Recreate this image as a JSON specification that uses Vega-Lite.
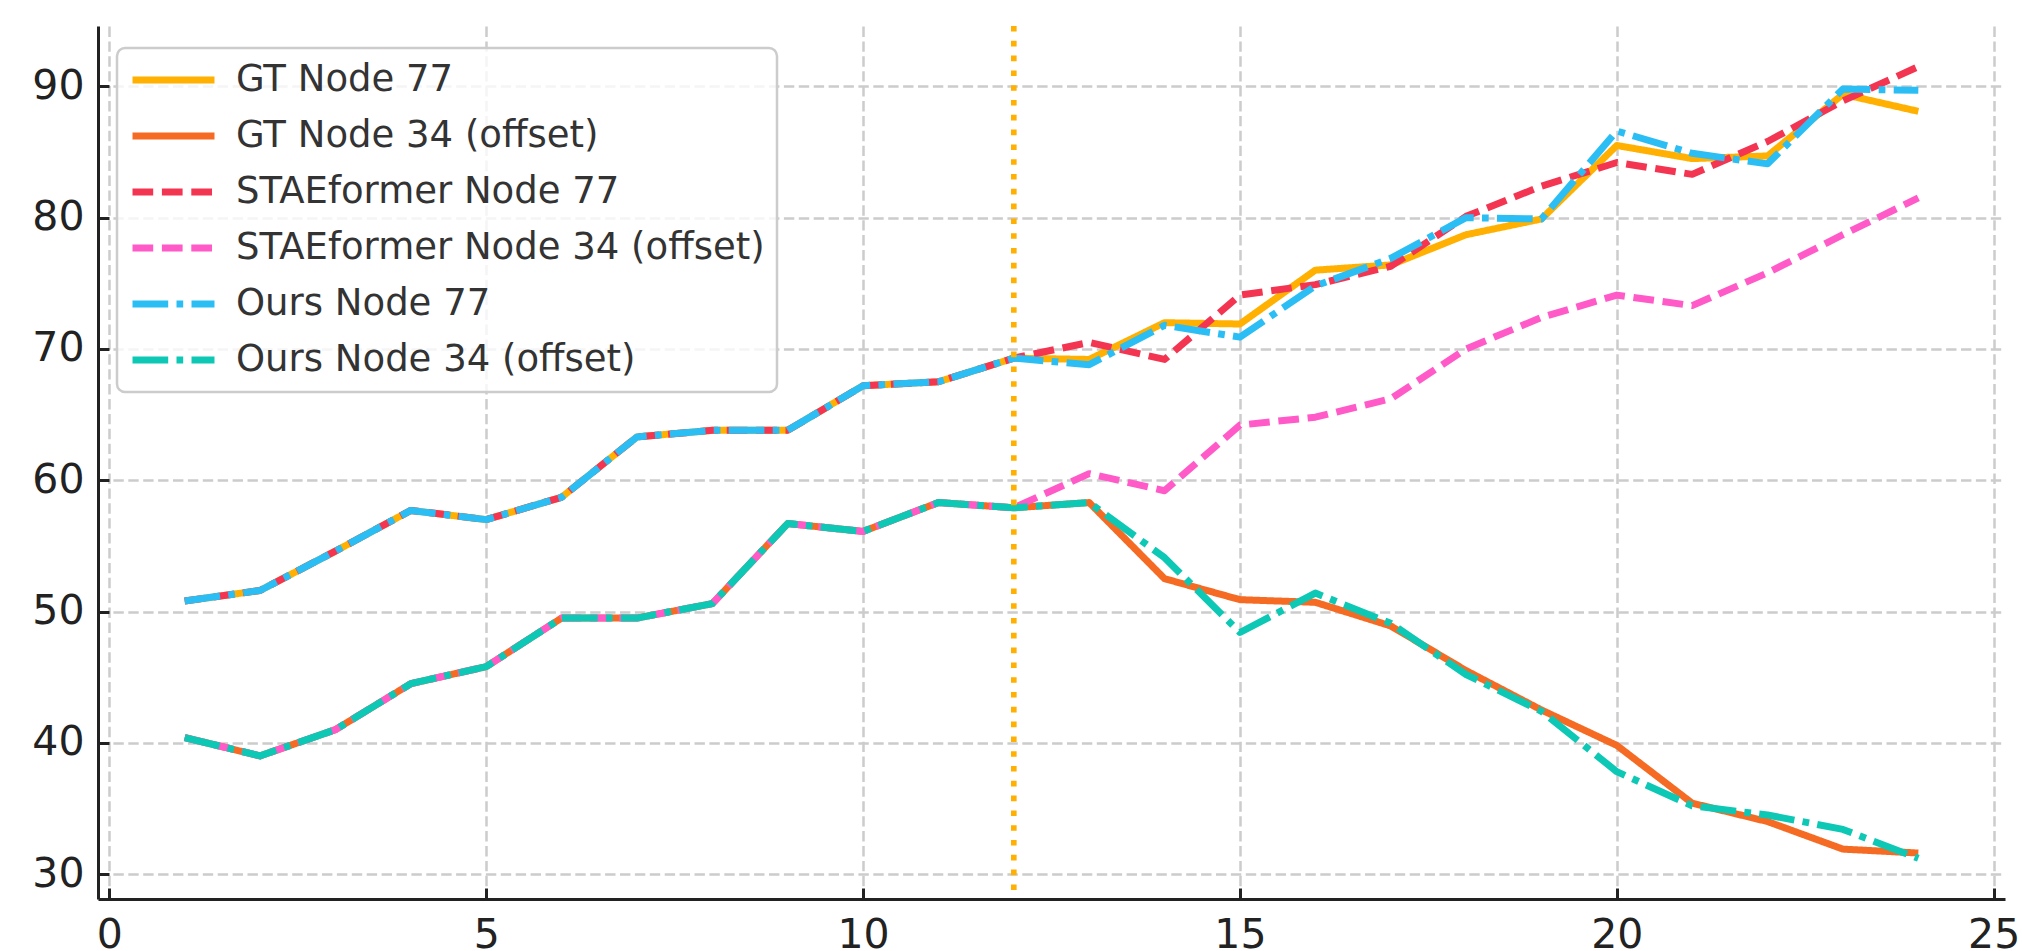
{
  "$schema": "https://vega.github.io/schema/vega-lite/v6.json",
  "width": 1907,
  "height": 873,
  "autosize": {"type": "none"},
  "padding": {"left": 98, "top": 26, "right": 17, "bottom": 52},
  "background": "white",
  "datasets": {
    "series": [
      {"t":1,"v":50.8,"s":"GT Node 77"},{"t":2,"v":51.6,"s":"GT Node 77"},{"t":3,"v":54.6,"s":"GT Node 77"},{"t":4,"v":57.7,"s":"GT Node 77"},{"t":5,"v":57.0,"s":"GT Node 77"},{"t":6,"v":58.7,"s":"GT Node 77"},{"t":7,"v":63.3,"s":"GT Node 77"},{"t":8,"v":63.8,"s":"GT Node 77"},{"t":9,"v":63.8,"s":"GT Node 77"},{"t":10,"v":67.2,"s":"GT Node 77"},{"t":11,"v":67.5,"s":"GT Node 77"},{"t":12,"v":69.3,"s":"GT Node 77"},{"t":13,"v":69.2,"s":"GT Node 77"},{"t":14,"v":72.0,"s":"GT Node 77"},{"t":15,"v":71.9,"s":"GT Node 77"},{"t":16,"v":76.0,"s":"GT Node 77"},{"t":17,"v":76.4,"s":"GT Node 77"},{"t":18,"v":78.7,"s":"GT Node 77"},{"t":19,"v":79.9,"s":"GT Node 77"},{"t":20,"v":85.5,"s":"GT Node 77"},{"t":21,"v":84.5,"s":"GT Node 77"},{"t":22,"v":84.7,"s":"GT Node 77"},{"t":23,"v":89.4,"s":"GT Node 77"},{"t":24,"v":88.1,"s":"GT Node 77"},
      {"t":1,"v":40.4,"s":"GT Node 34 (offset)"},{"t":2,"v":39.0,"s":"GT Node 34 (offset)"},{"t":3,"v":41.0,"s":"GT Node 34 (offset)"},{"t":4,"v":44.5,"s":"GT Node 34 (offset)"},{"t":5,"v":45.8,"s":"GT Node 34 (offset)"},{"t":6,"v":49.5,"s":"GT Node 34 (offset)"},{"t":7,"v":49.5,"s":"GT Node 34 (offset)"},{"t":8,"v":50.6,"s":"GT Node 34 (offset)"},{"t":9,"v":56.7,"s":"GT Node 34 (offset)"},{"t":10,"v":56.1,"s":"GT Node 34 (offset)"},{"t":11,"v":58.3,"s":"GT Node 34 (offset)"},{"t":12,"v":57.9,"s":"GT Node 34 (offset)"},{"t":13,"v":58.3,"s":"GT Node 34 (offset)"},{"t":14,"v":52.5,"s":"GT Node 34 (offset)"},{"t":15,"v":50.9,"s":"GT Node 34 (offset)"},{"t":16,"v":50.7,"s":"GT Node 34 (offset)"},{"t":17,"v":48.9,"s":"GT Node 34 (offset)"},{"t":18,"v":45.5,"s":"GT Node 34 (offset)"},{"t":19,"v":42.5,"s":"GT Node 34 (offset)"},{"t":20,"v":39.8,"s":"GT Node 34 (offset)"},{"t":21,"v":35.4,"s":"GT Node 34 (offset)"},{"t":22,"v":34.0,"s":"GT Node 34 (offset)"},{"t":23,"v":31.9,"s":"GT Node 34 (offset)"},{"t":24,"v":31.6,"s":"GT Node 34 (offset)"},
      {"t":1,"v":50.8,"s":"STAEformer Node 77"},{"t":2,"v":51.6,"s":"STAEformer Node 77"},{"t":3,"v":54.6,"s":"STAEformer Node 77"},{"t":4,"v":57.7,"s":"STAEformer Node 77"},{"t":5,"v":57.0,"s":"STAEformer Node 77"},{"t":6,"v":58.7,"s":"STAEformer Node 77"},{"t":7,"v":63.3,"s":"STAEformer Node 77"},{"t":8,"v":63.8,"s":"STAEformer Node 77"},{"t":9,"v":63.8,"s":"STAEformer Node 77"},{"t":10,"v":67.2,"s":"STAEformer Node 77"},{"t":11,"v":67.5,"s":"STAEformer Node 77"},{"t":12,"v":69.3,"s":"STAEformer Node 77"},{"t":13,"v":70.5,"s":"STAEformer Node 77"},{"t":14,"v":69.2,"s":"STAEformer Node 77"},{"t":15,"v":74.1,"s":"STAEformer Node 77"},{"t":16,"v":74.9,"s":"STAEformer Node 77"},{"t":17,"v":76.3,"s":"STAEformer Node 77"},{"t":18,"v":80.1,"s":"STAEformer Node 77"},{"t":19,"v":82.4,"s":"STAEformer Node 77"},{"t":20,"v":84.2,"s":"STAEformer Node 77"},{"t":21,"v":83.3,"s":"STAEformer Node 77"},{"t":22,"v":85.8,"s":"STAEformer Node 77"},{"t":23,"v":88.9,"s":"STAEformer Node 77"},{"t":24,"v":91.5,"s":"STAEformer Node 77"},
      {"t":1,"v":40.4,"s":"STAEformer Node 34 (offset)"},{"t":2,"v":39.0,"s":"STAEformer Node 34 (offset)"},{"t":3,"v":41.0,"s":"STAEformer Node 34 (offset)"},{"t":4,"v":44.5,"s":"STAEformer Node 34 (offset)"},{"t":5,"v":45.8,"s":"STAEformer Node 34 (offset)"},{"t":6,"v":49.5,"s":"STAEformer Node 34 (offset)"},{"t":7,"v":49.5,"s":"STAEformer Node 34 (offset)"},{"t":8,"v":50.6,"s":"STAEformer Node 34 (offset)"},{"t":9,"v":56.7,"s":"STAEformer Node 34 (offset)"},{"t":10,"v":56.1,"s":"STAEformer Node 34 (offset)"},{"t":11,"v":58.3,"s":"STAEformer Node 34 (offset)"},{"t":12,"v":57.9,"s":"STAEformer Node 34 (offset)"},{"t":13,"v":60.5,"s":"STAEformer Node 34 (offset)"},{"t":14,"v":59.2,"s":"STAEformer Node 34 (offset)"},{"t":15,"v":64.2,"s":"STAEformer Node 34 (offset)"},{"t":16,"v":64.8,"s":"STAEformer Node 34 (offset)"},{"t":17,"v":66.2,"s":"STAEformer Node 34 (offset)"},{"t":18,"v":70.0,"s":"STAEformer Node 34 (offset)"},{"t":19,"v":72.4,"s":"STAEformer Node 34 (offset)"},{"t":20,"v":74.1,"s":"STAEformer Node 34 (offset)"},{"t":21,"v":73.3,"s":"STAEformer Node 34 (offset)"},{"t":22,"v":75.8,"s":"STAEformer Node 34 (offset)"},{"t":23,"v":78.7,"s":"STAEformer Node 34 (offset)"},{"t":24,"v":81.5,"s":"STAEformer Node 34 (offset)"},
      {"t":1,"v":50.8,"s":"Ours Node 77"},{"t":2,"v":51.6,"s":"Ours Node 77"},{"t":3,"v":54.6,"s":"Ours Node 77"},{"t":4,"v":57.7,"s":"Ours Node 77"},{"t":5,"v":57.0,"s":"Ours Node 77"},{"t":6,"v":58.7,"s":"Ours Node 77"},{"t":7,"v":63.3,"s":"Ours Node 77"},{"t":8,"v":63.8,"s":"Ours Node 77"},{"t":9,"v":63.8,"s":"Ours Node 77"},{"t":10,"v":67.2,"s":"Ours Node 77"},{"t":11,"v":67.5,"s":"Ours Node 77"},{"t":12,"v":69.3,"s":"Ours Node 77"},{"t":13,"v":68.8,"s":"Ours Node 77"},{"t":14,"v":71.8,"s":"Ours Node 77"},{"t":15,"v":70.9,"s":"Ours Node 77"},{"t":16,"v":74.8,"s":"Ours Node 77"},{"t":17,"v":76.9,"s":"Ours Node 77"},{"t":18,"v":80.0,"s":"Ours Node 77"},{"t":19,"v":79.9,"s":"Ours Node 77"},{"t":20,"v":86.6,"s":"Ours Node 77"},{"t":21,"v":84.9,"s":"Ours Node 77"},{"t":22,"v":84.1,"s":"Ours Node 77"},{"t":23,"v":89.8,"s":"Ours Node 77"},{"t":24,"v":89.7,"s":"Ours Node 77"},
      {"t":1,"v":40.4,"s":"Ours Node 34 (offset)"},{"t":2,"v":39.0,"s":"Ours Node 34 (offset)"},{"t":3,"v":41.0,"s":"Ours Node 34 (offset)"},{"t":4,"v":44.5,"s":"Ours Node 34 (offset)"},{"t":5,"v":45.8,"s":"Ours Node 34 (offset)"},{"t":6,"v":49.5,"s":"Ours Node 34 (offset)"},{"t":7,"v":49.5,"s":"Ours Node 34 (offset)"},{"t":8,"v":50.6,"s":"Ours Node 34 (offset)"},{"t":9,"v":56.7,"s":"Ours Node 34 (offset)"},{"t":10,"v":56.1,"s":"Ours Node 34 (offset)"},{"t":11,"v":58.3,"s":"Ours Node 34 (offset)"},{"t":12,"v":57.9,"s":"Ours Node 34 (offset)"},{"t":13,"v":58.3,"s":"Ours Node 34 (offset)"},{"t":14,"v":54.1,"s":"Ours Node 34 (offset)"},{"t":15,"v":48.4,"s":"Ours Node 34 (offset)"},{"t":16,"v":51.4,"s":"Ours Node 34 (offset)"},{"t":17,"v":49.1,"s":"Ours Node 34 (offset)"},{"t":18,"v":45.2,"s":"Ours Node 34 (offset)"},{"t":19,"v":42.4,"s":"Ours Node 34 (offset)"},{"t":20,"v":37.8,"s":"Ours Node 34 (offset)"},{"t":21,"v":35.2,"s":"Ours Node 34 (offset)"},{"t":22,"v":34.5,"s":"Ours Node 34 (offset)"},{"t":23,"v":33.4,"s":"Ours Node 34 (offset)"},{"t":24,"v":31.2,"s":"Ours Node 34 (offset)"}
    ],
    "marker": [{"t": 12}]
  },
  "layer": [
    {
      "data": {"name": "series"},
      "mark": {"type": "line", "strokeJoin": "round", "strokeCap": "butt"},
      "encoding": {
        "x": {"field": "t", "type": "quantitative", "scale": {"domain": [-0.15, 25.15], "nice": false, "zero": false}, "axis": {"values": [0, 5, 10, 15, 20, 25], "format": "d"}, "title": null},
        "y": {"field": "v", "type": "quantitative", "scale": {"domain": [28.1, 94.6], "nice": false, "zero": false}, "axis": {"values": [30, 40, 50, 60, 70, 80, 90], "format": "d"}, "title": null},
        "color": {
          "field": "s", "type": "nominal", "title": null,
          "scale": {
            "domain": ["GT Node 77", "GT Node 34 (offset)", "STAEformer Node 77", "STAEformer Node 34 (offset)", "Ours Node 77", "Ours Node 34 (offset)"],
            "range": ["#FFB000", "#F56B24", "#F43552", "#FF5AC8", "#2BBEF5", "#0DC8B5"]
          }
        },
        "strokeDash": {
          "field": "s", "type": "nominal", "title": null,
          "scale": {
            "domain": ["GT Node 77", "GT Node 34 (offset)", "STAEformer Node 77", "STAEformer Node 34 (offset)", "Ours Node 77", "Ours Node 34 (offset)"],
            "range": [[1, 0], [1, 0], [20.7, 8.7], [20.7, 8.7], [35.7, 8.3, 6.7, 8.3], [35.7, 8.3, 6.7, 8.3]]
          }
        },
        "strokeWidth": {
          "field": "s", "type": "nominal", "title": null,
          "scale": {
            "domain": ["GT Node 77", "GT Node 34 (offset)", "STAEformer Node 77", "STAEformer Node 34 (offset)", "Ours Node 77", "Ours Node 34 (offset)"],
            "range": [7, 7, 5.6, 5.6, 5.6, 5.6]
          }
        }
      }
    },
    {
      "data": {"name": "marker"},
      "mark": {"type": "rule", "color": "#FFB000", "strokeWidth": 5.6, "strokeDash": [5.6, 9.2], "strokeCap": "butt"},
      "encoding": {
        "x": {"field": "t", "type": "quantitative", "scale": {"domain": [-0.15, 25.15], "nice": false, "zero": false}}
      }
    }
  ],
  "config": {
    "view": {"stroke": null},
    "font": "DejaVu Sans",
    "axis": {
      "grid": true,
      "gridColor": "#cccccc",
      "gridWidth": 2.5,
      "gridDash": [10.4, 4.5],
      "domainColor": "#222222",
      "domainWidth": 3,
      "tickColor": "#222222",
      "tickWidth": 3,
      "tickSize": -11,
      "labelFont": "DejaVu Sans",
      "labelFontSize": 41,
      "labelColor": "#222222",
      "labelFlush": false,
      "labelOverlap": false,
      "title": null
    },
    "axisX": {"labelPadding": 27},
    "axisY": {"labelPadding": 25},
    "legend": {
      "orient": "none",
      "legendX": 19,
      "legendY": 22,
      "title": null,
      "symbolType": "stroke",
      "symbolSize": 6724,
      "clipHeight": 40,
      "rowPadding": 16,
      "padding": 12,
      "labelFont": "DejaVu Sans",
      "labelFontSize": 37,
      "labelColor": "#333333",
      "labelOffset": 18,
      "labelLimit": 1000,
      "fillColor": "rgba(255,255,255,0.8)",
      "strokeColor": "#cccccc",
      "cornerRadius": 8,
      "strokeWidth": 2.5
    }
  }
}
